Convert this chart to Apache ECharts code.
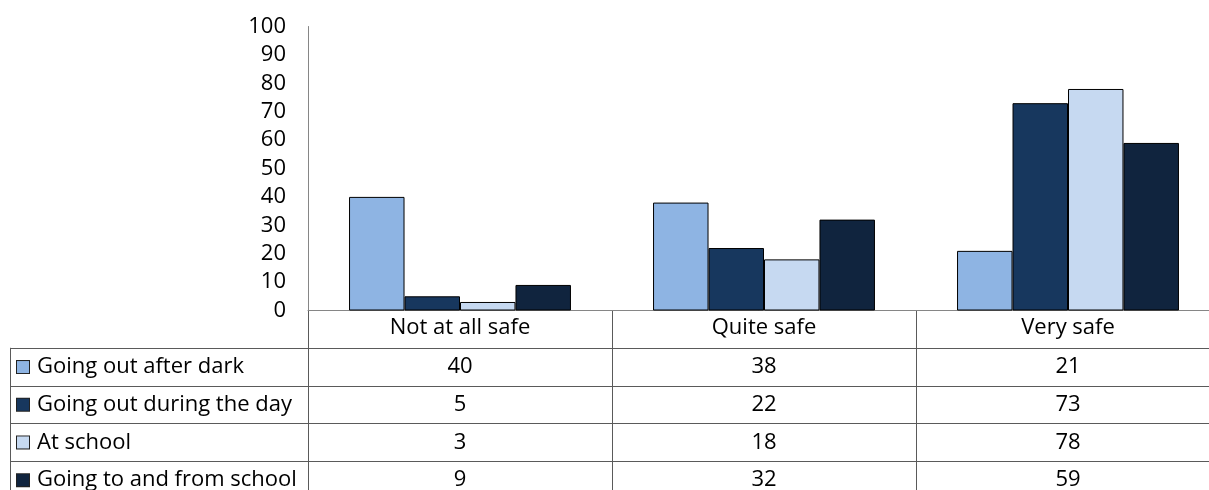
<!DOCTYPE html>
<html><head><meta charset="utf-8">
<script src="https://cdn.jsdelivr.net/npm/echarts@6/dist/echarts.min.js"></script>
<style>html,body{margin:0;padding:0;background:#fff}#c{width:1209px;height:490px}</style>
</head><body><div id="c"></div>
<script>
const categories = ['Not at all safe', 'Quite safe', 'Very safe'];
const seriesNames = ['Going out after dark', 'Going out during the day', 'At school', 'Going to and from school'];
const afterDark = [40, 38, 21];
const duringDay = [5, 22, 73];
const atSchool = [3, 18, 78];
const toFromSchool = [9, 32, 59];
const yTicks = [0, 10, 20, 30, 40, 50, 60, 70, 80, 90, 100];

const values = [afterDark, duringDay, atSchool, toFromSchool];
const colors = ['#8EB4E3', '#17375E', '#C6D9F1', '#10243E'];
const FONT = 'Open Sans';
const FS = 22;
const lineCol = '#5a5a5a';

const chart = echarts.init(document.getElementById('c'), null, {renderer: 'canvas'});
const rich = {t: {fontFamily: FONT, fontSize: FS, color: '#000', padding: [0,0,0,8]}};
colors.forEach((c, i) => { rich['b' + i] = {width: 12, height: 12, backgroundColor: c, borderColor: '#222', borderWidth: 1}; });

const series = values.map((v, i) => ({
  type: 'bar', name: seriesNames[i], xAxisIndex: 0, yAxisIndex: 0,
  data: v, barGap: '0%', barCategoryGap: '27%',
  itemStyle: {color: colors[i], borderColor: '#000', borderWidth: 1}
}));
values.forEach((v, i) => {
  series.push({
    type: 'scatter', xAxisIndex: 1, yAxisIndex: 1, symbolSize: 0, silent: true,
    itemStyle: {opacity: 1},
    data: categories.map((c, j) => [j, i + 1, v[j]]),
    label: {show: true, position: 'inside', opacity: 1, formatter: p => String(p.value[2]), fontFamily: FONT, fontSize: FS, color: '#000'}
  });
});

chart.setOption({
  animation: false,
  grid: [
    {left: 308, width: 912, top: 26.5, height: 284, outerBoundsMode: 'none', containLabel: false},
    {left: 308, width: 912, top: 310.5, height: 188.5, outerBoundsMode: 'none', containLabel: false},
    {left: 10, width: 298, top: 348.2, height: 150.8, outerBoundsMode: 'none', containLabel: false}
  ],
  xAxis: [
    {type: 'category', gridIndex: 0, data: categories,
     axisLine: {lineStyle: {color: '#868686', width: 1}}, axisTick: {show: false},
     axisLabel: {fontFamily: FONT, fontSize: FS, color: '#000', margin: 6}},
    {type: 'category', gridIndex: 1, data: categories, boundaryGap: true,
     axisLine: {show: false}, axisTick: {show: false}, axisLabel: {show: false},
     splitLine: {show: true, interval: 0, lineStyle: {color: lineCol, width: 1}}},
    {type: 'value', gridIndex: 2, show: false}
  ],
  yAxis: [
    {type: 'value', gridIndex: 0, min: 0, max: 100, interval: 10,
     axisLine: {show: true, lineStyle: {color: '#868686', width: 1}}, axisTick: {show: false},
     splitLine: {show: false},
     axisLabel: {fontFamily: FONT, fontSize: FS, color: '#000', margin: 22, formatter: v => yTicks.includes(v) ? String(v) : ''}},
    {type: 'category', gridIndex: 1, inverse: true, data: ['', ...seriesNames],
     axisLine: {show: false}, axisTick: {show: false}, axisLabel: {show: false},
     splitLine: {show: true, interval: 0, lineStyle: {color: lineCol, width: 1}}},
    {type: 'category', gridIndex: 2, inverse: true, data: seriesNames,
     axisLine: {show: true, lineStyle: {color: lineCol, width: 1}}, axisTick: {show: false},
     splitLine: {show: true, interval: 0, lineStyle: {color: lineCol, width: 1}},
     axisLabel: {inside: true, margin: 7, align: 'left', interval: 0,
       formatter: (v, idx) => '{b' + idx + '|}{t|' + v + '}', rich: rich}}
  ],
  series: series
});
</script></body></html>
